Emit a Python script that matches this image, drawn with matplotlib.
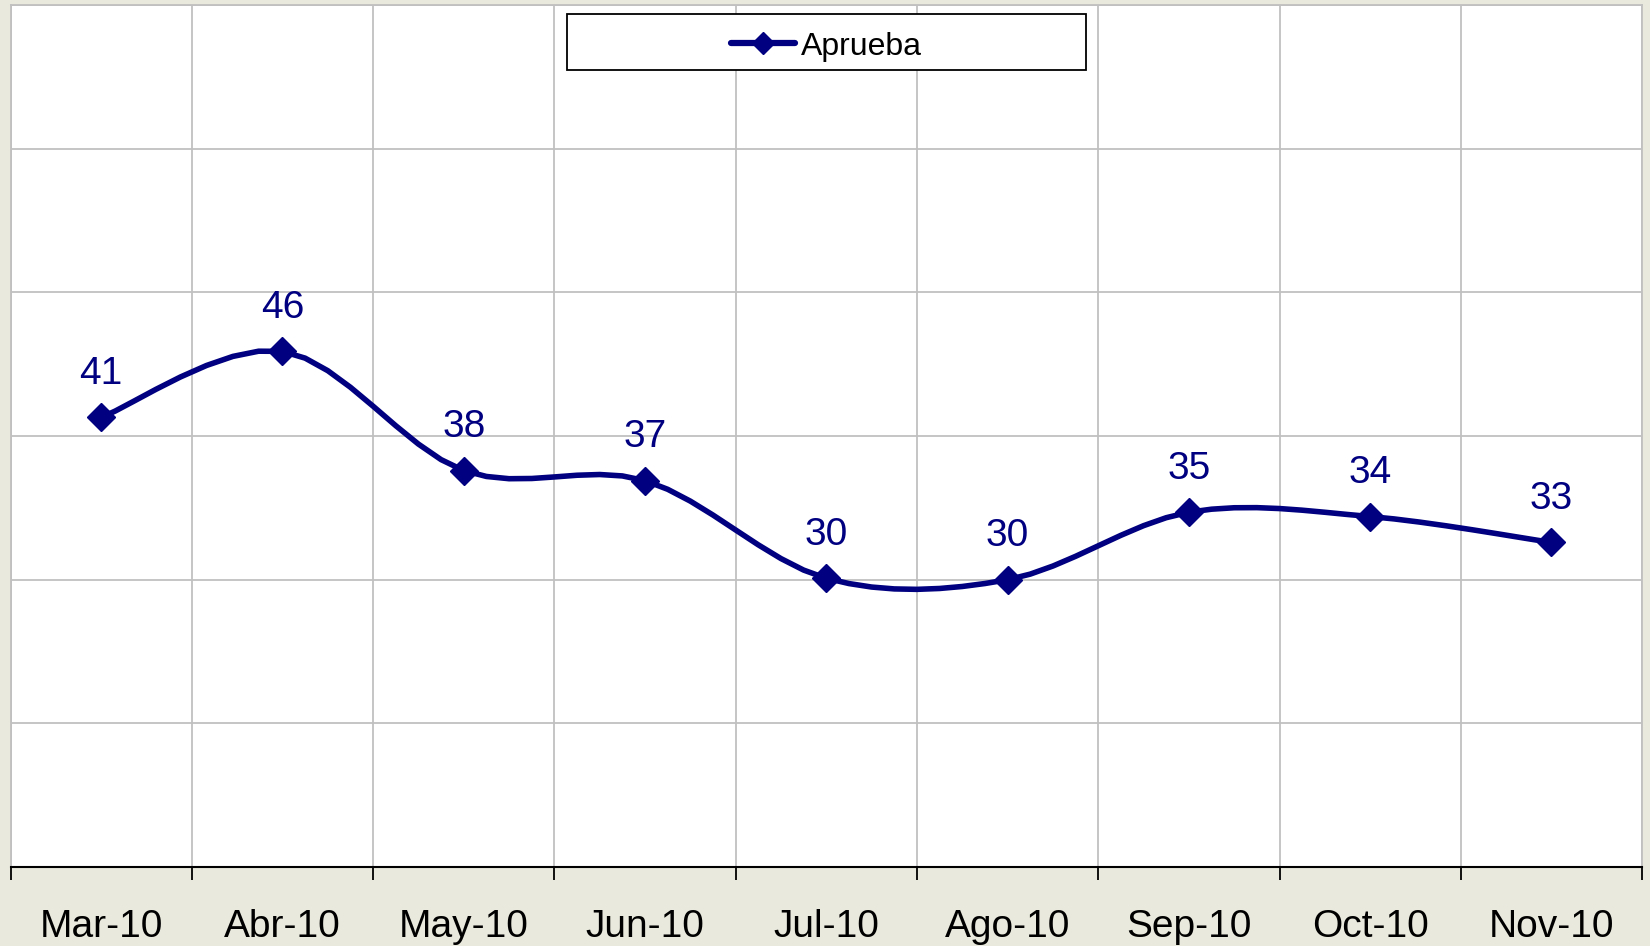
import numpy as np
import matplotlib
matplotlib.use("Agg")
import matplotlib.pyplot as plt
from matplotlib.patches import Rectangle

# data
months = ["Mar-10", "Abr-10", "May-10", "Jun-10", "Jul-10",
          "Ago-10", "Sep-10", "Oct-10", "Nov-10"]
aprueba = [41.3, 45.9, 37.6, 36.9, 30.1, 30.0, 34.7, 34.4, 32.6]
y_grid = [10, 20, 30, 40, 50, 60, 70]

NAVY = "#000080"
BG = "#EAE9DD"
GRID = "#C0C0C0"
plt.rcParams['font.family'] = ['Liberation Sans', 'DejaVu Sans']


def smooth_path(xs, ys, steps=8):
    """Excel-like smoothed line: cubic bezier through the points."""
    pts = np.column_stack([xs, ys]).astype(float)
    ext = np.vstack([pts[0], pts, pts[-1]])
    out = [pts[0]]
    ts = np.linspace(0, 1, steps + 1)[1:]
    for i in range(len(pts) - 1):
        p0, p1, p2, p3 = ext[i], ext[i + 1], ext[i + 2], ext[i + 3]
        c1 = p1 + (p2 - p0) / 6
        c2 = p2 - (p3 - p1) / 6
        for t in ts:
            out.append((1 - t) ** 3 * p1 + 3 * (1 - t) ** 2 * t * c1
                       + 3 * (1 - t) * t ** 2 * c2 + t ** 3 * p2)
    return np.array(out)


fig = plt.figure(figsize=(16.5, 9.46), dpi=100, facecolor=BG)
ax = fig.add_axes([0.0064, 0.0835, 0.9888, 0.911])
ax.set_facecolor("white")

x = np.arange(len(months))
curve = smooth_path(x, aprueba)
ax.plot(curve[:, 0], curve[:, 1], color=NAVY, lw=4, solid_capstyle='round',
        solid_joinstyle='round', zorder=3)
ax.plot(x, aprueba, ls='none', marker='D', ms=14, color=NAVY, zorder=4)
# proxy for the legend (line + marker)
ax.plot([], [], color=NAVY, lw=4.5, marker='D', ms=11, label="Aprueba",
        solid_capstyle='round')

for xi, v in zip(x, aprueba):
    ax.annotate(f"{v:.0f}", (xi, v), xytext=(0, 24), textcoords='offset points',
                ha='center', va='baseline', fontsize=28, color=NAVY)

ax.set_xlim(-0.5, len(months) - 0.5)
ax.set_ylim(y_grid[0], y_grid[-1])
ax.set_yticks(y_grid)
ax.tick_params(axis='y', length=0, labelleft=False)

ax.set_xticks(np.arange(-0.5, len(months), 1))
ax.set_xticks(x, minor=True)
ax.set_xticklabels([])
ax.set_xticklabels(months, minor=True)
ax.tick_params(axis='x', which='major', direction='out', length=9, width=1.3, color='black')
ax.tick_params(axis='x', which='minor', length=0, pad=30, labelsize=28)

ax.grid(True, which='major', color=GRID, lw=1.3)
ax.set_axisbelow(True)
for side in ['left', 'top', 'right']:
    ax.spines[side].set_color(GRID)
    ax.spines[side].set_linewidth(1.3)
ax.spines['bottom'].set_color('black')
ax.spines['bottom'].set_linewidth(1.5)

# legend box
ax.add_patch(Rectangle((0.341, 0.9246), 0.318, 0.065, transform=ax.transAxes,
                       facecolor='white', edgecolor='black', lw=1.3, zorder=5))
leg = ax.legend(loc='center', bbox_to_anchor=(0.5, 0.952), frameon=False,
                fontsize=23, handlelength=2, handletextpad=0.2)
leg.set_zorder(6)

fig.savefig("out.png", dpi=100, facecolor=BG)
